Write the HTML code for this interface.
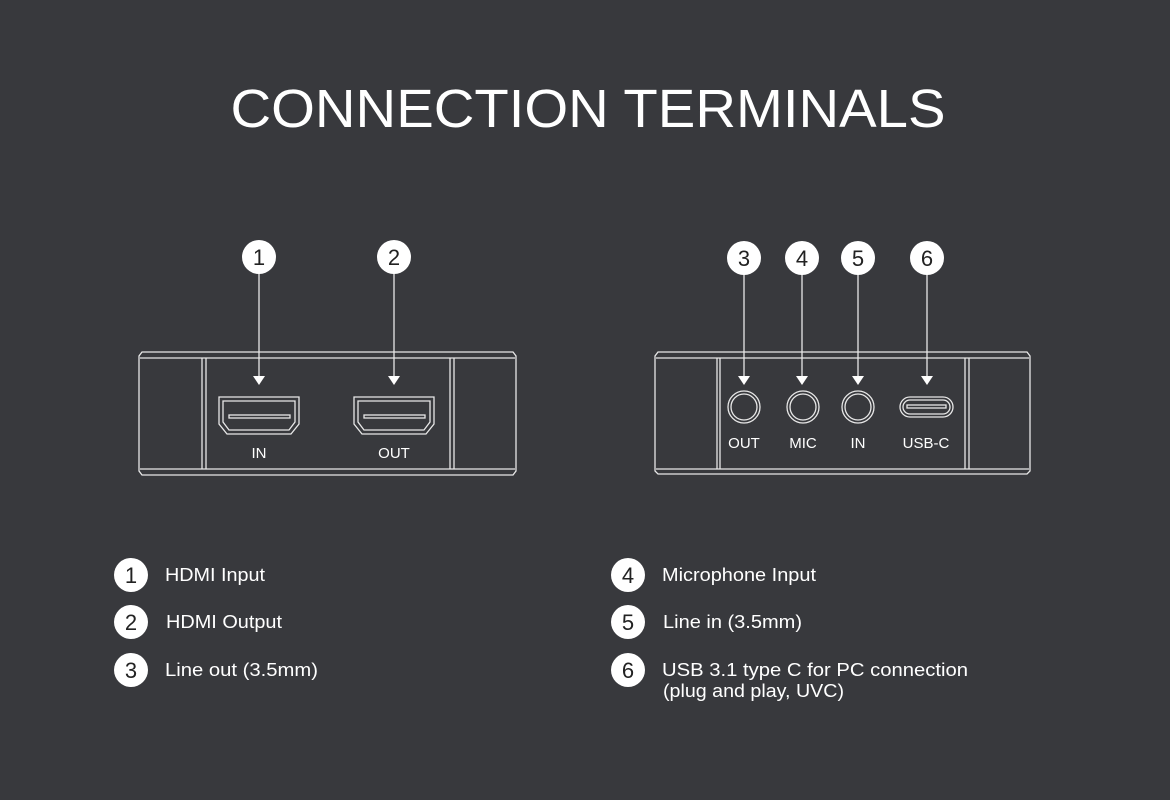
<!DOCTYPE html>
<html><head><meta charset="utf-8"><style>
html,body{margin:0;padding:0;background:#38393d;}
svg{display:block;}
text{font-family:"Liberation Sans",sans-serif;fill:#fff;}
</style></head><body>
<svg width="1170" height="800" viewBox="0 0 1170 800" xmlns="http://www.w3.org/2000/svg">
<rect width="1170" height="800" fill="#38393d"/>
<text x="588" y="127" font-size="54" text-anchor="middle" textLength="715" lengthAdjust="spacingAndGlyphs">CONNECTION TERMINALS</text>

<g fill="none" stroke="#e8e8e8" stroke-width="1.3">
<path d="M142,352 L513,352 L516,356 L516,471 L513,475 L142,475 L139,471 L139,356 Z"/>
<line x1="140" y1="358" x2="515" y2="358"/>
<line x1="140" y1="469" x2="515" y2="469"/>
<line x1="202" y1="358" x2="202" y2="469"/><line x1="206" y1="358" x2="206" y2="469"/>
<line x1="450" y1="358" x2="450" y2="469"/><line x1="454" y1="358" x2="454" y2="469"/>
<path d="M219,397 L299,397 L299,424 L291,434 L227,434 L219,424 Z"/>
<path d="M223,401 L295,401 L295,422 L289,430 L229,430 L223,422 Z"/>
<rect x="229" y="415" width="61" height="3"/>
<path d="M354,397 L434,397 L434,424 L426,434 L362,434 L354,424 Z"/>
<path d="M358,401 L430,401 L430,422 L424,430 L364,430 L358,422 Z"/>
<rect x="364" y="415" width="61" height="3"/>

<path d="M658,352 L1027,352 L1030,356 L1030,471 L1027,474 L658,474 L655,471 L655,356 Z"/>
<line x1="656" y1="358" x2="1029" y2="358"/>
<line x1="656" y1="469" x2="1029" y2="469"/>
<line x1="717" y1="358" x2="717" y2="469"/><line x1="720" y1="358" x2="720" y2="469"/>
<line x1="965" y1="358" x2="965" y2="469"/><line x1="969" y1="358" x2="969" y2="469"/>
<circle cx="744" cy="407" r="16"/><circle cx="744" cy="407" r="13"/>
<circle cx="803" cy="407" r="16"/><circle cx="803" cy="407" r="13"/>
<circle cx="858" cy="407" r="16"/><circle cx="858" cy="407" r="13"/>
<rect x="900" y="397" width="53" height="20" rx="10"/>
<rect x="903" y="400" width="47" height="14" rx="7"/>
<rect x="907" y="405" width="39" height="3"/>

<line x1="259" y1="272" x2="259" y2="378"/>
<line x1="394" y1="272" x2="394" y2="378"/>
<line x1="744" y1="272" x2="744" y2="378"/>
<line x1="802" y1="272" x2="802" y2="378"/>
<line x1="858" y1="272" x2="858" y2="378"/>
<line x1="927" y1="272" x2="927" y2="378"/>
</g>
<g fill="#fff">
<polygon points="253,376 265,376 259,385"/>
<polygon points="388,376 400,376 394,385"/>
<polygon points="738,376 750,376 744,385"/>
<polygon points="796,376 808,376 802,385"/>
<polygon points="852,376 864,376 858,385"/>
<polygon points="921,376 933,376 927,385"/>
<circle cx="259" cy="257" r="17"/>
<circle cx="394" cy="257" r="17"/>
<circle cx="744" cy="258" r="17"/>
<circle cx="802" cy="258" r="17"/>
<circle cx="858" cy="258" r="17"/>
<circle cx="927" cy="258" r="17"/>
<circle cx="131" cy="575" r="17"/>
<circle cx="131" cy="622" r="17"/>
<circle cx="131" cy="670" r="17"/>
<circle cx="628" cy="575" r="17"/>
<circle cx="628" cy="622" r="17"/>
<circle cx="628" cy="670" r="17"/>
</g>
<g font-size="22" text-anchor="middle">
<text x="259" y="265" style="fill:#222">1</text>
<text x="394" y="265" style="fill:#222">2</text>
<text x="744" y="266" style="fill:#222">3</text>
<text x="802" y="266" style="fill:#222">4</text>
<text x="858" y="266" style="fill:#222">5</text>
<text x="927" y="266" style="fill:#222">6</text>
<text x="131" y="583" style="fill:#222">1</text>
<text x="131" y="630" style="fill:#222">2</text>
<text x="131" y="678" style="fill:#222">3</text>
<text x="628" y="583" style="fill:#222">4</text>
<text x="628" y="630" style="fill:#222">5</text>
<text x="628" y="678" style="fill:#222">6</text>
</g>
<g font-size="15" text-anchor="middle">
<text x="259" y="458">IN</text>
<text x="394" y="458">OUT</text>
<text x="744" y="448">OUT</text>
<text x="803" y="448">MIC</text>
<text x="858" y="448">IN</text>
<text x="926" y="448">USB-C</text>
</g>
<g font-size="18" lengthAdjust="spacingAndGlyphs">
<text x="165" y="581" textLength="100" lengthAdjust="spacingAndGlyphs">HDMI Input</text>
<text x="166" y="628" textLength="116" lengthAdjust="spacingAndGlyphs">HDMI Output</text>
<text x="165" y="676" textLength="153" lengthAdjust="spacingAndGlyphs">Line out (3.5mm)</text>
<text x="662" y="581" textLength="154" lengthAdjust="spacingAndGlyphs">Microphone Input</text>
<text x="663" y="628" textLength="139" lengthAdjust="spacingAndGlyphs">Line in (3.5mm)</text>
<text x="662" y="676" textLength="306" lengthAdjust="spacingAndGlyphs">USB 3.1 type C for PC connection</text>
<text x="663" y="697" textLength="181" lengthAdjust="spacingAndGlyphs">(plug and play, UVC)</text>
</g>
</svg>
</body></html>
